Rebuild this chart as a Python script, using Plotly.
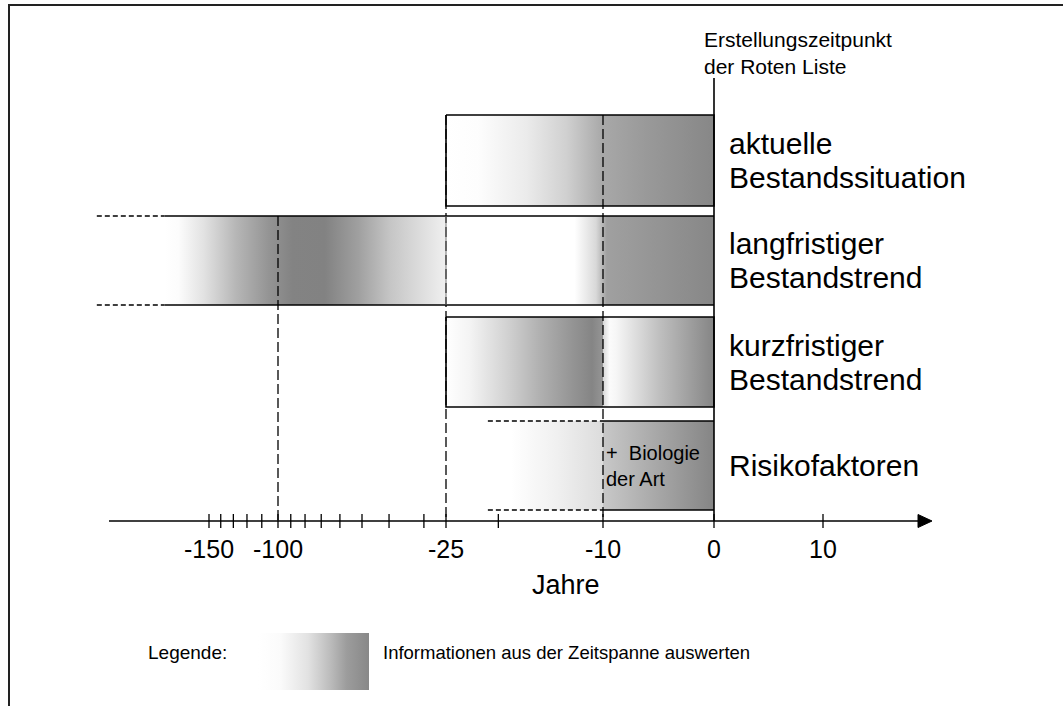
import numpy as np
import plotly.graph_objects as go

# ---------------- data ----------------
tick_years = [-150, -100, -25, -10, 0, 10]
tick_labels = ["-150", "-100", "-25", "-10", "0", "10"]
minor_tick_years = [-140, -130, -120, -110, -90, -80, -70, -60, -50, -40, -30, -20]
axis_title = "Jahre"
axis_extent = [-270, 20]

row_labels = [["aktuelle", "Bestandssituation"],
              ["langfristiger", "Bestandstrend"],
              ["kurzfristiger", "Bestandstrend"],
              ["Risikofaktoren"]]
row_solid_start = [-25, -195, -25, -10]
row_dashed_start = [None, -290, None, -21]
row_end = [0, 0, 0, 0]
reference_years = [-100, -25, -10]
creation_year = 0
creation_text = ["Erstellungszeitpunkt", "der Roten Liste"]
risk_note = ["+  Biologie", "der Art"]
legend_title = "Legende:"
legend_text = "Informationen aus der Zeitspanne auswerten"

# ---------------- scale (broken time axis) ----------------
LOG_YEARS, LOG_PX = [-150, -100, -25], [209, 278, 446]
LIN_YEARS, LIN_PX = [-25, -10, 0, 10], [446, 603, 714, 823]


def interp_ext(v, xp, fp):
    xp = np.asarray(xp, float); fp = np.asarray(fp, float)
    o = np.argsort(xp); xp, fp = xp[o], fp[o]
    if v < xp[0]:
        return fp[0] + (v - xp[0]) * (fp[1] - fp[0]) / (xp[1] - xp[0])
    if v > xp[-1]:
        return fp[-1] + (v - xp[-1]) * (fp[-1] - fp[-2]) / (xp[-1] - xp[-2])
    return float(np.interp(v, xp, fp))


def X(year):
    if year < -25:
        return interp_ext(np.log10(-year), np.log10(-np.asarray(LOG_YEARS, float)), LOG_PX)
    return interp_ext(year, LIN_YEARS, LIN_PX)


# ---------------- layout constants ----------------
W, H = 1063, 706
ROW_TOP = [115, 216, 317, 421]
ROW_BOT = [206, 305, 407, 510]
AXIS_Y = 521
FONT = "Liberation Sans, Arial, Helvetica, sans-serif"

fig = go.Figure()


def grad_rect(x0, x1, y0, y1, stops):
    fig.add_trace(go.Scatter(
        x=[x0, x1, x1, x0, x0], y=[y0, y0, y1, y1, y0], mode="lines",
        line=dict(width=0, color="rgba(0,0,0,0)"), fill="toself",
        fillgradient=dict(type="horizontal", colorscale=stops, start=x0, stop=x1),
        hoverinfo="skip", showlegend=False))


def seg(xs, ys, width=1.6, color="#000", dash="solid"):
    fig.add_trace(go.Scatter(x=xs, y=ys, mode="lines",
                             line=dict(width=width, color=color, dash=dash),
                             hoverinfo="skip", showlegend=False))


def text(x, y, s, size, anchor="left"):
    fig.add_annotation(x=x, y=y, text=s, showarrow=False, xanchor=anchor,
                       yanchor="middle", font=dict(family=FONT, size=size, color="#000"))


# gradient styles
G_ROW1 = [[0, "#ffffff"], [0.12, "#fdfdfd"], [0.3, "#ebebeb"], [0.45, "#d0d0d0"],
          [0.585, "#a8a8a8"], [0.75, "#999999"], [1, "#878787"]]
G_ROW2L = [[0, "#ffffff"], [0.05, "#fcfcfc"], [0.14, "#e2e2e2"], [0.255, "#b6b6b6"],
           [0.374, "#939393"], [0.455, "#838383"], [0.57, "#828282"], [0.69, "#a0a0a0"],
           [0.804, "#c6c6c6"], [1, "#f0f0f0"]]
G_ROW2R = [[0, "#ffffff"], [0.48, "#ffffff"], [0.56, "#d8d8d8"], [0.6, "#a0a0a0"],
           [1, "#878787"]]
G_ROW3L = [[0, "#ffffff"], [0.15, "#f4f4f4"], [0.4, "#d0d0d0"], [0.6, "#b0b0b0"],
           [0.8, "#959595"], [0.93, "#858585"], [1, "#959595"]]
G_ROW3R = [[0, "#d8d8d8"], [0.06, "#fbfbfb"], [0.12, "#f6f6f6"], [0.5, "#c0c0c0"],
           [1, "#858585"]]
G_ROW4L = [[0, "#ffffff"], [0.2, "#ffffff"], [0.6, "#f0f0f0"], [1, "#dcdcdc"]]
G_ROW4R = [[0, "#c8c8c8"], [1, "#858585"]]
G_LEG = [[0, "#ffffff"], [0.2, "#fbfbfb"], [0.45, "#e2e2e2"], [0.65, "#bcbcbc"],
         [0.8, "#9c9c9c"], [1, "#888888"]]

x25, x10, x0 = X(-25), X(-10), X(creation_year)

# row 1
grad_rect(X(row_solid_start[0]), X(row_end[0]), ROW_TOP[0], ROW_BOT[0], G_ROW1)
# row 2
grad_rect(X(row_solid_start[1]), x25, ROW_TOP[1], ROW_BOT[1], G_ROW2L)
grad_rect(x25, X(row_end[1]), ROW_TOP[1], ROW_BOT[1], G_ROW2R)
# row 3
grad_rect(X(row_solid_start[2]), x10, ROW_TOP[2], ROW_BOT[2], G_ROW3L)
grad_rect(x10, X(row_end[2]), ROW_TOP[2], ROW_BOT[2], G_ROW3R)
# row 4
grad_rect(X(row_dashed_start[3]), x10, ROW_TOP[3], ROW_BOT[3], G_ROW4L)
grad_rect(x10, X(row_end[3]), ROW_TOP[3], ROW_BOT[3], G_ROW4R)

# dashed reference verticals
for yr in reference_years:
    top = ROW_TOP[1] if yr == -100 else ROW_TOP[0]
    seg([X(yr), X(yr)], [top, AXIS_Y], width=1.3, dash="10px,4px")

# row borders
for i in (0, 2):
    a, b = X(row_solid_start[i]), X(row_end[i])
    seg([a, b, b, a, a], [ROW_TOP[i], ROW_TOP[i], ROW_BOT[i], ROW_BOT[i], ROW_TOP[i]])
for i in (1, 3):
    a, b, d = X(row_solid_start[i]), X(row_end[i]), X(row_dashed_start[i])
    for yy in (ROW_TOP[i], ROW_BOT[i]):
        seg([a, b], [yy, yy])
        seg([d, a], [yy, yy], width=1.3, dash="5px,3px")
seg([x25, x25], [ROW_TOP[1], ROW_BOT[1]], width=1, color="#777")

# creation line
seg([x0, x0], [78, AXIS_Y], width=1.6)

# time axis
ax0, ax1 = X(axis_extent[0]), X(axis_extent[1])
seg([ax0, ax1 - 12], [AXIS_Y, AXIS_Y], width=1.6)
fig.add_trace(go.Scatter(x=[ax1 - 14, ax1, ax1 - 14, ax1 - 14],
                         y=[AXIS_Y - 6.5, AXIS_Y, AXIS_Y + 6.5, AXIS_Y - 6.5],
                         mode="lines", fill="toself", fillcolor="#000",
                         line=dict(width=1, color="#000"), hoverinfo="skip",
                         showlegend=False))
for yr in tick_years + minor_tick_years:
    seg([X(yr), X(yr)], [AXIS_Y - 7, AXIS_Y + 7], width=1.3)
for yr, lab in zip(tick_years, tick_labels):
    text(X(yr), 549, lab, 25, anchor="center")
text(566, 585, axis_title, 27, anchor="center")

# row labels
for i, lines in enumerate(row_labels):
    c = (ROW_TOP[i] + ROW_BOT[i]) / 2
    if len(lines) == 1:
        text(727, c, lines[0], 30)
    else:
        text(727, c - 17, lines[0], 30)
        text(727, c + 17, lines[1], 30)

# notes
text(702, 39, creation_text[0], 21)
text(702, 66, creation_text[1], 21)
text(604, 453, risk_note[0], 20)
text(604, 479, risk_note[1], 20)

# legend
text(146, 652, legend_title, 19)
grad_rect(258, 369, 633, 690, G_LEG)
text(381, 652, legend_text, 18.5)

# frame
seg([8, W], [5, 5], width=2, color="#222")
seg([9, 9], [5, H], width=2, color="#222")

fig.update_layout(
    width=W, height=H, margin=dict(l=0, r=0, t=0, b=0),
    paper_bgcolor="white", plot_bgcolor="white", showlegend=False,
    xaxis=dict(range=[0, W], visible=False, fixedrange=True),
    yaxis=dict(range=[H, 0], visible=False, fixedrange=True),
)
fig.write_html("out.html", config={"displayModeBar": False},
               post_script="document.body.style.margin='0px';document.body.style.overflow='hidden';")
